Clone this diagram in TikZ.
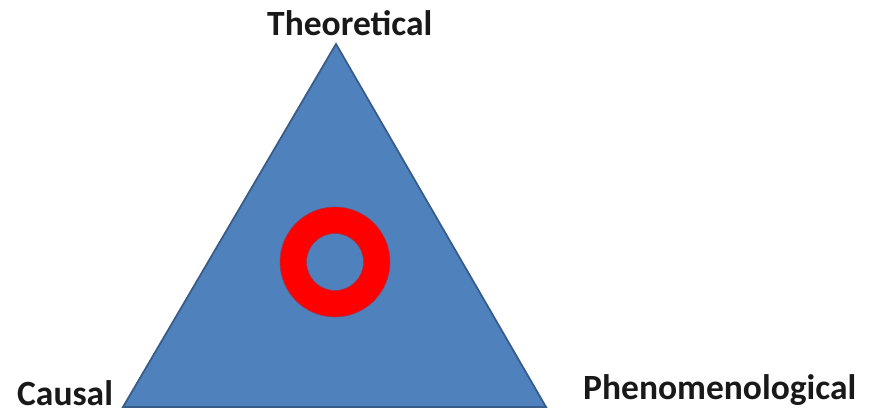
\documentclass[tikz,border=0pt]{standalone}
\usepackage{fontspec}
\setmainfont{Carlito}
\begin{document}
\begin{tikzpicture}[x=1pt,y=1pt,
  lbl/.style={font=\fontsize{35.5}{40}\selectfont\bfseries, inner sep=0pt, anchor=base west, text=black!90},
  tri/.style={fill={rgb,255:red,79;green,129;blue,189}, draw={rgb,255:red,56;green,93;blue,138}, line width=1.8pt, line join=miter},
  ring/.style={fill={rgb,255:red,255;green,0;blue,0}, draw={rgb,255:red,150;green,60;blue,90}, line width=0.6pt, even odd rule}]
\useasboundingbox (0,0) rectangle (880,414);
\coordinate (top) at (336,370);
\coordinate (bl) at (123,7);
\coordinate (br) at (546,7);
\coordinate (ctr) at (335,152);
\draw[tri] (top) -- (br) -- (bl) -- cycle;
\path[ring] (ctr) circle[radius=55] (ctr) circle[radius=28.5];
\node[lbl] (theo) at (267,378) {Theoretical};
\node[lbl] (caus) at (17,8.5) {Causal};
\node[lbl] (phen) at (583,14) {Phenomenological};
\end{tikzpicture}
\end{document}
